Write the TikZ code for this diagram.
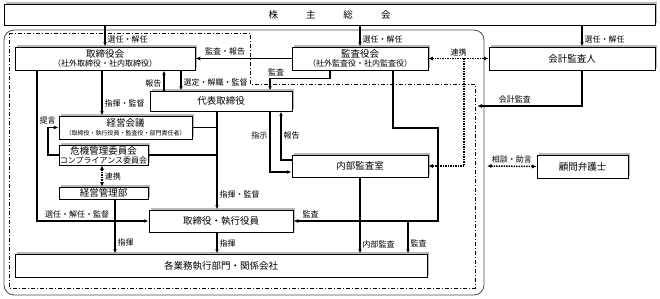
\documentclass[tikz,border=0pt]{standalone}
\usepackage{fontspec}
\setmainfont{Noto Sans CJK JP}
\usetikzlibrary{arrows.meta,shadows}
\begin{document}
\begin{tikzpicture}[
    x=1pt, y=-1pt,
    box/.style={draw, fill=white, line width=0.7pt, inner sep=0pt, align=center,
        font=\fontsize{9.5}{11}\selectfont,
        general shadow={fill=gray!55, shadow xshift=2pt, shadow yshift=2pt}},
    conn/.style={line width=1.1pt},
    arr/.style={conn, -{Latex[length=4.5pt,width=3.5pt]}},
    tconn/.style={line width=1.9pt},
    tarr/.style={tconn, -{Latex[length=5pt,width=4pt]}},
    dotline/.style={line width=1.5pt, densely dotted},
    dotarr/.style={dotline, -{Latex[length=4.5pt,width=4pt]}},
    dotboth/.style={dotline, {Latex[length=4.5pt,width=4pt]}-{Latex[length=4.5pt,width=4pt]}},
    lbl/.style={font=\fontsize{8}{9}\selectfont, inner sep=2pt},
    area/.style={gray!60!black, line width=0.8pt},
    group/.style={line width=0.6pt, dash pattern=on 4pt off 2pt on 1pt off 2pt}
]
\useasboundingbox (0,0) rectangle (660,299);

\draw[area, rounded corners=10pt] (4,30) rectangle (484,295);
\draw[group] (9,33) -- (250,33) -- (250,84) -- (475,84) -- (475,288) -- (9,288) -- cycle;

\node[box, minimum width=651pt, minimum height=21pt] (kabu) at (329.5,14.5) {株\hspace{28pt}主\hspace{28pt}総\hspace{28pt}会};
\node[box, minimum width=180pt, minimum height=23pt] (board) at (105,58.5) {取締役会\\[-2pt]\fontsize{8}{9}\selectfont （社外取締役・社内取締役）};
\node[box, minimum width=136pt, minimum height=23pt] (kansayaku) at (360,58.5) {監査役会\\[-2pt]\fontsize{8}{9}\selectfont （社外監査役・社内監査役）};
\node[box, minimum width=166pt, minimum height=23pt] (kaikei) at (572,58.5) {会計監査人};
\node[box, minimum width=142pt, minimum height=20pt] (daihyo) at (221,101) {代表取締役};
\node[box, minimum width=133pt, minimum height=23pt] (keiei) at (125.5,127.5) {経営会議\\[-2pt]\fontsize{6}{7}\selectfont （取締役・執行役員・監査役・部門責任者）};
\node[box, minimum width=89pt, minimum height=20pt] (kiki) at (103.5,155) {危機管理委員会\\[-2pt]\fontsize{8}{9}\selectfont コンプライアンス委員会};
\node[box, minimum width=89pt, minimum height=12pt] (kanri) at (103.5,193) {経営管理部};
\node[box, minimum width=144pt, minimum height=22pt] (shikko) at (221,221) {取締役・執行役員};
\node[box, minimum width=136pt, minimum height=22pt] (naibu) at (360,166) {内部監査室};
\node[box, minimum width=91pt, minimum height=23pt] (komon) at (582.5,166.5) {顧問弁護士};
\node[box, minimum width=412pt, minimum height=23pt] (bumon) at (221,265.5) {各業務執行部門・関係会社};

\coordinate (xsel) at (37,0);
\coordinate (xshiki) at (102,0);
\coordinate (xkanri) at (115,0);
\coordinate (xhoukoku) at (164,0);
\coordinate (xsentei) at (181,0);
\coordinate (xdaihyo) at (217,0);
\coordinate (xshiji) at (270,0);
\coordinate (xhou2) at (281,0);
\coordinate (xkansa) at (330,0);
\coordinate (xaudit) at (393,0);
\coordinate (xaudit2) at (408,0);
\coordinate (xaudit3) at (438,0);
\coordinate (xrenkei) at (464,0);
\coordinate (xkaikei) at (582,0);
\coordinate (kaikeiend) at (477,106);
\coordinate (sodanend) at (487,166);

\draw[arr] (board.north |- kabu.south) -- node[lbl, right, pos=0.65] {選任・解任} (board.north);
\draw[arr] (kansayaku.north |- kabu.south) -- node[lbl, right, pos=0.65] {選任・解任} (kansayaku.north);
\draw[arr] (xkaikei |- kabu.south) -- node[lbl, right, pos=0.65] {選任・解任} (xkaikei |- kaikei.north);
\draw[tarr] (kansayaku.west) -- node[lbl, above, pos=0.69] {監査・報告} (board.east);
\draw[dotboth] (kansayaku.east) -- node[lbl, above] {連携} (kaikei.west);
\draw[dotarr] (xrenkei |- kansayaku.east) |- (naibu.east);
\draw[tarr] (xkaikei |- kaikei.south) |- node[lbl, above, pos=0.82] {会計監査} (kaikeiend);
\draw[dotboth] (sodanend) -- node[lbl, above] {相談・助言} (komon.west);

\draw[arr] (xkansa |- kansayaku.south) -- ++(0,8) -| node[lbl, above, pos=0.45] {監査} (xshiji |- daihyo.north);
\draw[arr] (xsentei |- board.south) -- node[lbl, right, pos=0.6] {選定・解職・監督} (xsentei |- daihyo.north);
\draw[arr] (xhoukoku |- daihyo.north) -- node[lbl, left, pos=0.35] {報告} (xhoukoku |- board.south);
\draw[arr] (xshiki |- board.south) -- node[lbl, right, pos=0.72] {指揮・監督} (xshiki |- keiei.north);
\draw[arr] (xsel |- board.south) |- node[lbl, above, pos=0.68] {選任・解任・監督} (shikko.west);
\draw[tarr] (kiki.west) -- ++(-11,0) |- node[lbl, above, pos=0.5] {提言} (keiei.west);
\draw[dotboth] (xshiki |- kiki.south) -- node[lbl, right] {連携} (xshiki |- kanri.north);
\draw[arr] (xdaihyo |- daihyo.south) -- node[lbl, right, pos=0.85] {指揮・監督} (xdaihyo |- shikko.north);
\draw[tconn] (keiei.east) -- (xdaihyo |- keiei.east);
\draw[conn] (kiki.east) -- (xdaihyo |- kiki.east);
\draw[arr] (xkanri |- kanri.south) -- node[lbl, right, pos=0.8] {指揮} (xkanri |- bumon.north);
\draw[arr] (xdaihyo |- shikko.south) -- node[lbl, right] {指揮} (xdaihyo |- bumon.north);
\draw[arr] (xshiji |- daihyo.south) |- node[lbl, left, pos=0.2] {指示} ([yshift=-6pt]naibu.west);
\draw[arr] ([yshift=6pt]naibu.west) -| node[lbl, right, pos=0.75] {報告} (xhou2 |- daihyo.south);
\draw[tarr] (xaudit |- kansayaku.south) -- ++(0,58) -| (xaudit3 |- shikko.east) -- node[lbl, above, pos=0.88] {監査} (shikko.east);
\draw[arr] (xaudit2 |- shikko.east) -- node[lbl, right, pos=0.7] {監査} (xaudit2 |- bumon.north);
\draw[arr] (naibu.south) -- node[lbl, right, pos=0.88] {内部監査} (naibu.south |- bumon.north);

\end{tikzpicture}
\end{document}
